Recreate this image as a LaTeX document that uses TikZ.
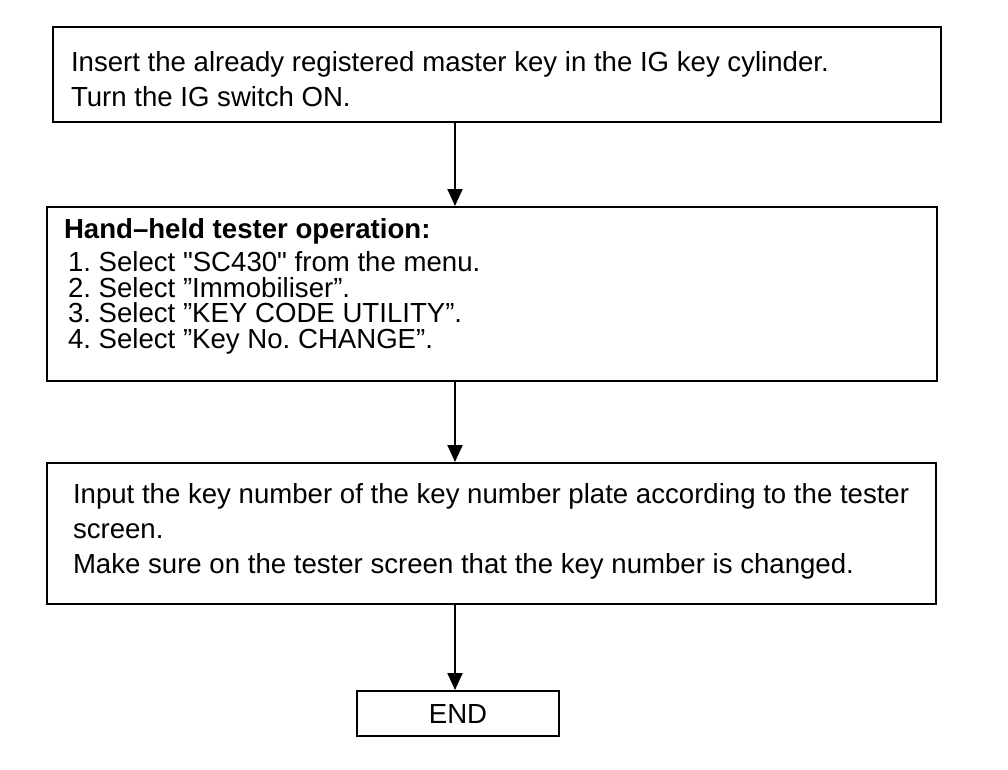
\documentclass[tikz,border=0pt]{standalone}
\usepackage{fontspec}
\setmainfont{Liberation Sans}[Ligatures=TeXOff]
\usetikzlibrary{arrows.meta,positioning}
\frenchspacing

\begin{document}
\begin{tikzpicture}[x=1pt, y=-1pt, line width=2pt, ->, >={Triangle[length=17pt,width=15pt]}]
\useasboundingbox (0,0) rectangle (1008,770);
\tikzstyle{every node} = [inner sep=0pt, font=\fontsize{27.6}{35}\selectfont]
\tikzstyle{boxnode} = [draw, rectangle]
\node[boxnode, minimum width=888pt, minimum height=95pt] (start) at (497,74.5) {};
\node[boxnode, minimum width=890pt, minimum height=174pt] (tester) at (492,294) {};
\node[boxnode, minimum width=889pt, minimum height=141pt] (input) at (491.5,533.5) {};
\node[boxnode, minimum width=202pt, minimum height=45pt] (finish) at (458,713.5) {END};
\coordinate (spine) at (455,0);
\tikzstyle{txt} = [anchor=west, align=left]
\node[txt] (t1) at (70,79.5) {Insert the already registered master key in the IG key cylinder.\\Turn the IG switch ON.};
\node[txt] (t2) at (63,231) {\bfseries Hand–held tester operation:};
\node[txt, font=\fontsize{27.6}{25.5}\selectfont] (t2list) at (67,303) {1. Select "SC430" from the menu.\\2. Select ”Immobiliser”.\\3. Select ”KEY CODE UTILITY”.\\4. Select ”Key No. CHANGE”.};
\node[txt] (t3) at (72,531) {Input the key number of the key number plate according to the tester\\screen.\\Make sure on the tester screen that the key number is changed.};
\draw (start.south -| spine) -- (tester.north -| spine);
\draw (tester.south -| spine) -- (input.north -| spine);
\draw (input.south -| spine) -- (finish.north -| spine);
\end{tikzpicture}
\end{document}
